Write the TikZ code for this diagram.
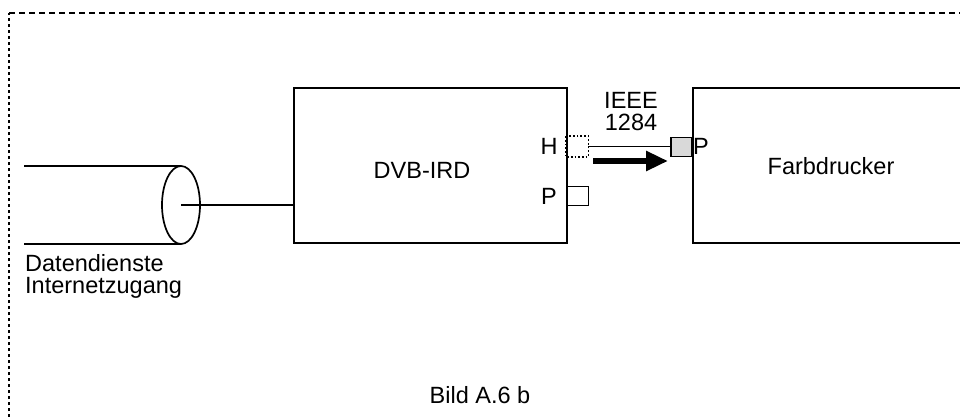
\documentclass[tikz,border=0pt]{standalone}
\usepackage{fontspec}
\setmainfont{Liberation Sans}
\usetikzlibrary{arrows.meta}
\begin{document}
\begin{tikzpicture}[x=1pt,y=-1pt,
  lbl/.style={font=\fontsize{23.5}{22}\selectfont, inner sep=0pt, align=left},
  boxline/.style={line width=2pt},
  portbox/.style={draw, line width=1.7pt, minimum width=21pt, minimum height=19pt, inner sep=0pt},
  conn/.style={line width=1.7pt}]
\useasboundingbox (0,0) rectangle (960,417);
% frame
\draw[line width=1.5pt, dash pattern=on 3pt off 3pt] (9,417) -- (9,13);
\draw[line width=1.5pt, dash pattern=on 6pt off 4pt] (9,13) -- (960,13);
% cylinder
\draw[boxline] (24,166) -- (181,166);
\draw[boxline] (24,244) -- (181,244);
\draw[line width=1.7pt] (181,205) ellipse [x radius=19, y radius=39];
\coordinate (cyl) at (181,205);
% DVB-IRD box
\node[draw, boxline, minimum width=273pt, minimum height=155pt, inner sep=0pt] (ird) at (430.5,165.5) {};
\node[lbl] (irdtxt) at (422,170) {DVB-IRD};
\draw[conn] (cyl) -- (ird.west |- cyl);
% printer box (extends past right edge)
\coordinate (prtl) at (693,165.5);
\draw[boxline] (960,88) -- (693,88) -- (693,243) -- (960,243);
\node[lbl] (prttxt) at (831,166) {Farbdrucker};
% ports
\node[portbox, draw=none] (hport) at (577,146.5) {};
\draw[line width=1.7pt, dotted] (hport.north west) rectangle (hport.south east);
\node[portbox] (pport) at (578,196) {};
\node[portbox, fill=black!15] (prport) at (681.5,147) {};
\node[lbl] (hlbl) at (549,146) {H};
\node[lbl] (plbl) at (549,196) {P};
\node[lbl] (prplbl) at (701,146) {P};
% connection
\draw[conn] (hport.east) -- (prport.west |- hport.east);
\node[lbl, align=center] (ieee) at (631,112) {IEEE\\1284};
% arrow
\coordinate (arrs) at (593,161);
\coordinate (arre) at (668,161);
\draw[line width=6pt, -{Triangle[length=22pt,width=19pt]}] (arrs) -- (arre);
% labels
\node[lbl, anchor=north west] (dat) at (25,254) {Datendienste\\Internetzugang};
\node[lbl] (bild) at (480,395) {Bild A.6 b};
\end{tikzpicture}
\end{document}
